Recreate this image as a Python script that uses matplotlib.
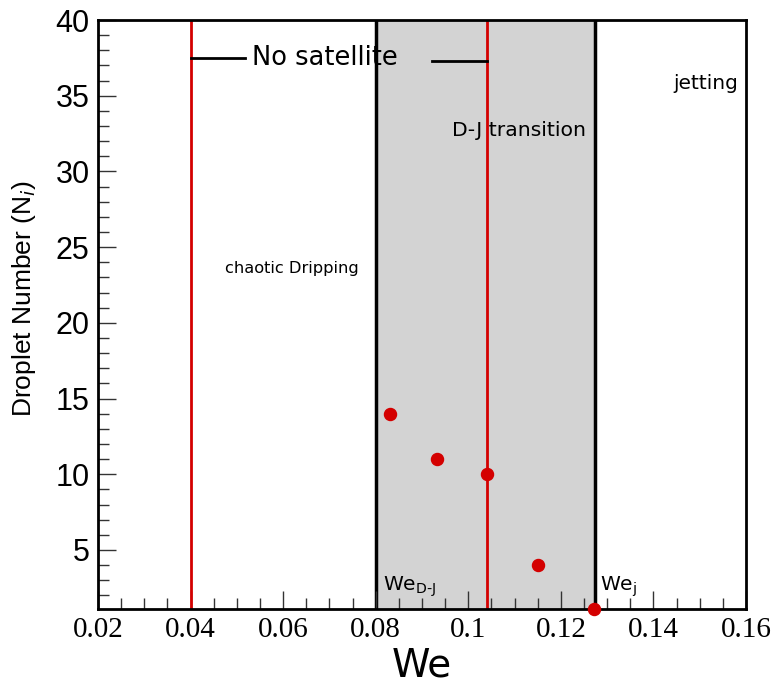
import matplotlib
matplotlib.use('Agg')
import matplotlib.pyplot as plt
from matplotlib.ticker import MultipleLocator

# regime boundaries (We)
we_dj = 0.08
we_j = 0.1274
red_lines = [0.04, 0.104]

# measured droplet numbers
we = [0.0831, 0.0932, 0.104, 0.1151, 0.1272]
droplets = [14, 11, 10, 4, 1.1]

xticks = [0.02, 0.04, 0.06, 0.08, 0.1, 0.12, 0.14, 0.16]
xticklabels = ['0.02', '0.04', '0.06', '0.08', '0.1', '0.12', '0.14', '0.16']
yticks = [5, 10, 15, 20, 25, 30, 35, 40]

fig = plt.figure(figsize=(7.76, 6.84), dpi=100)
ax = fig.add_axes([98 / 776, 1 - 609 / 684, 648 / 776, 589 / 684])

ax.axvspan(we_dj, we_j, color='#d3d3d3', zorder=0)
ax.axvline(we_dj, color='black', lw=2.5, zorder=1)
ax.axvline(we_j, color='black', lw=2.5, zorder=1)
for xv in red_lines:
    ax.axvline(xv, color='#d40000', lw=2, zorder=2)

ax.scatter(we, droplets, s=75, color='#d40000', zorder=5, clip_on=False)

# "No satellite" bar between red lines
ax.plot([0.04, 0.0517], [37.5, 37.5], color='black', lw=2)
ax.plot([0.0922, 0.104], [37.3, 37.3], color='black', lw=2)
ax.text(0.0532, 37.5, 'No satellite', fontsize=18.5, va='center', ha='left')

ax.text(0.1443, 35.8, 'jetting', fontsize=14.5, va='center')
ax.text(0.0964, 32.7, 'D-J transition', fontsize=14.7, va='center')
ax.text(0.0475, 23.6, 'chaotic Dripping', fontsize=11.7, va='center')
ax.text(0.0815, 2.6, r'We$_{\mathrm{D\text{-}J}}$', fontsize=14.5, va='center')
ax.text(0.1285, 2.6, r'We$_{\mathrm{j}}$', fontsize=14.5, va='center')

ax.set_xlim(0.02, 0.16)
ax.set_ylim(1.1, 40)
ax.set_xticks(xticks)
ax.set_xticklabels(xticklabels, family='Liberation Serif', fontsize=21)
ax.set_yticks(yticks)
ax.set_yticklabels([str(v) for v in yticks], family='Liberation Sans', fontsize=22)
ax.xaxis.set_minor_locator(MultipleLocator(0.005))
ax.yaxis.set_minor_locator(MultipleLocator(1))
ax.tick_params(which='major', direction='in', length=13, width=1, color='#333333')
ax.tick_params(which='minor', direction='in', length=8, width=1, color='#333333')
ax.tick_params(axis='x', pad=6)
ax.tick_params(axis='y', pad=6)

for sp in ax.spines.values():
    sp.set_linewidth(2)

ax.set_xlabel('We', fontsize=28, labelpad=2)
ax.set_ylabel('Droplet Number (N$_i$)', family='Liberation Sans', fontsize=19)
ax.yaxis.set_label_coords(-0.0926, 0.527)

fig.savefig('out.png', dpi=100)
